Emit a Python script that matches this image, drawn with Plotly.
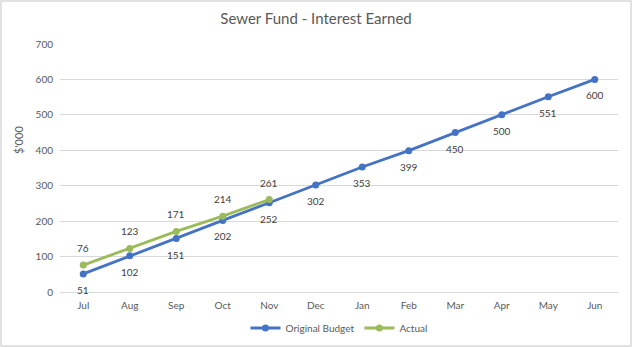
import plotly.graph_objects as go

months = ["Jul", "Aug", "Sep", "Oct", "Nov", "Dec", "Jan", "Feb", "Mar", "Apr", "May", "Jun"]
original_budget = [51, 102, 151, 202, 252, 302, 353, 399, 450, 500, 551, 600]
actual = [76, 123, 171, 214, 261]
y_ticks = [0, 100, 200, 300, 400, 500, 600, 700]

FONT = "Lato, 'Liberation Sans', sans-serif"
TXT = "#595959"
LBL = "#404040"

fig = go.Figure()
fig.add_trace(go.Scatter(
    x=months, y=original_budget, name="Original Budget", mode="lines+markers",
    line=dict(color="#4472C4", width=2.8), marker=dict(size=7, color="#4472C4"),
))
fig.add_trace(go.Scatter(
    x=months[:len(actual)], y=actual, name="Actual", mode="lines+markers",
    line=dict(color="#9BBB59", width=2.8), marker=dict(size=7, color="#9BBB59"),
))

annotations = []
for m, v in zip(months, original_budget):
    annotations.append(dict(x=m, y=v, text=str(v), showarrow=False, yshift=-16,
                            font=dict(size=10, color=LBL, family=FONT)))
for m, v in zip(months, actual):
    annotations.append(dict(x=m, y=v, text=str(v), showarrow=False, yshift=17,
                            font=dict(size=10, color=LBL, family=FONT)))

W, H = 632, 347
ml, mr, mt, mb = 60, 14, 44, 55
pw, ph = W - ml - mr, H - mt - mb

annotations.append(dict(text="$'000", xref="paper", yref="paper", x=-(ml - 18) / pw,
                        y=(292 - 140) / ph, xanchor="center", yanchor="middle",
                        textangle=-90, showarrow=False, font=dict(size=11, color=TXT, family=FONT)))

fig.update_layout(
    width=W, height=H,
    margin=dict(l=ml, r=mr, t=mt, b=mb, autoexpand=False),
    paper_bgcolor="white", plot_bgcolor="white",
    font=dict(family=FONT, color=TXT, size=10),
    title=dict(text="Sewer Fund - Interest Earned", x=0.5, xanchor="center",
               y=1 - 19 / H, yanchor="middle", font=dict(size=15, color=TXT, family=FONT)),
    xaxis=dict(showgrid=False, showline=False, ticks="", automargin=False,
               range=[-0.5, len(months) - 0.5],
               tickfont=dict(size=10, color=TXT), ticklabelstandoff=6),
    yaxis=dict(range=[0, 700], tickvals=y_ticks, showgrid=True, gridcolor="#d9d9d9",
               gridwidth=1, zeroline=True, zerolinecolor="#d9d9d9", zerolinewidth=1,
               automargin=False, tickfont=dict(size=10, color=TXT), ticklabelstandoff=6),
    legend=dict(orientation="h", x=0.5, xanchor="center", y=-(328 - (H - mb)) / ph,
                yanchor="middle", font=dict(size=10, color=TXT)),
    showlegend=True,
    annotations=annotations,
    shapes=[dict(type="rect", xref="paper", yref="paper",
                 x0=-(ml - 1) / pw, x1=1 + (mr - 1) / pw,
                 y0=-(mb - 1) / ph, y1=1 + (mt - 1) / ph,
                 line=dict(color="#d9d9d9", width=1.5))],
)

fig.write_html("out.html")
